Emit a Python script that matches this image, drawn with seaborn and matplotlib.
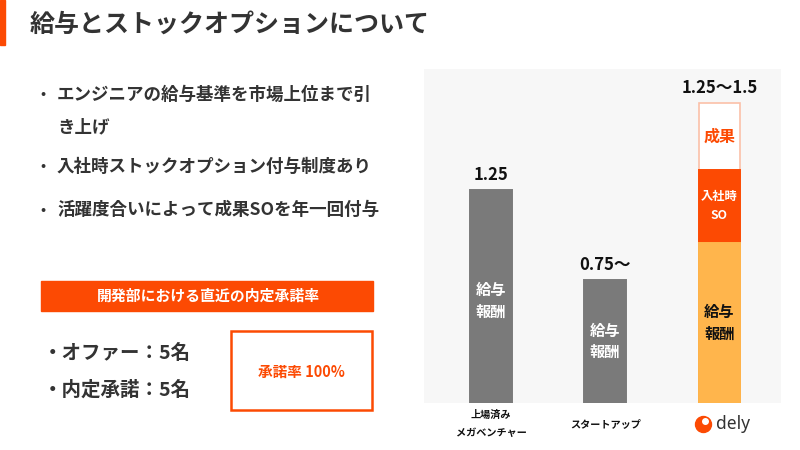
import matplotlib
matplotlib.use("Agg")
import matplotlib.pyplot as plt
import seaborn as sns
import numpy as np
from matplotlib.patches import Rectangle

sns.set_style("white")
plt.rcParams['font.family'] = ['Noto Sans CJK JP', 'DejaVu Sans']

# ---- data ----
categories = ["上場済み\nメガベンチャー", "スタートアップ", "dely"]
salary = [1.25, 0.72, 0.94]          # 給与報酬
join_so = [0.0, 0.0, 0.43]           # 入社時SO
perf_so = [0.0, 0.0, 0.39]           # 成果SO
value_labels = ["1.25", "0.75〜", "1.25〜1.5"]
title = "給与とストックオプションについて"
bullets = ["エンジニアの給与基準を市場上位まで引\nき上げ",
           "入社時ストックオプション付与制度あり",
           "活躍度合いによって成果SOを年一回付与"]
box_title = "開発部における直近の内定承諾率"
stats = ["・オファー：5名", "・内定承諾：5名"]
rate_text = "承諾率 100%"

ORANGE = "#fc4a03"
GRAY = "#7a7a7a"
LIGHT_OR = "#ffb54c"
DARK = "#333333"

W, H = 800, 450
fig = plt.figure(figsize=(8, 4.5), dpi=100)
fig.patch.set_facecolor("white")

def P(x, y):
    return x / W, 1 - y / H

# ---- chart ----
ax = fig.add_axes([424 / W, 47 / H, 357 / W, 334 / H])
ax.set_facecolor("#f7f7f7")

sal = np.array(salary); js = np.array(join_so); ps = np.array(perf_so)
tot3 = sal + js + ps
tot2 = sal + js
bw = 0.364
sel = [2]
sns.barplot(x=[categories[i] for i in sel], y=tot3[sel], order=categories,
            color="white", edgecolor="#fbc0a8", linewidth=1.2, width=bw,
            saturation=1, ax=ax)
sns.barplot(x=[categories[i] for i in sel], y=tot2[sel], order=categories,
            color=ORANGE, edgecolor=ORANGE, linewidth=1.4, width=bw,
            saturation=1, ax=ax)
sns.barplot(x=categories, y=sal, order=categories, hue=categories,
            palette=[GRAY, GRAY, LIGHT_OR], legend=False, width=bw,
            saturation=1, linewidth=0, ax=ax)
# cover the edge lines of the stacked layers beneath the base segment
for p in ax.patches[-3:]:
    p.set_edgecolor(p.get_facecolor())
    p.set_linewidth(1.4)

ax.set_xlim(-0.588, 2.54)
ax.set_ylim(0, 1.96)
for s in ax.spines.values():
    s.set_visible(False)
ax.set_yticks([])
ax.set_ylabel("")
ax.set_xlabel("")
ax.set_xticks(range(3))
ax.set_xticklabels(["上場済み\nメガベンチャー", "スタートアップ", ""])
ax.tick_params(axis="x", length=0, pad=15)
for lab in ax.get_xticklabels():
    lab.set_fontsize(7.3)
    lab.set_fontweight("bold")
    lab.set_color("#111111")
    lab.set_linespacing(2.0)
    lab.set_va("center")

# value labels
tops = [sal[0], sal[1], tot3[2]]
for i, (t, lab) in enumerate(zip(tops, value_labels)):
    ax.annotate(lab, (i, t), xytext=(0, 11), textcoords="offset points",
                ha="center", va="center", fontsize=12, fontweight="bold",
                color="#111111")

# labels inside bars
ax.text(0, sal[0] * 0.48, "給与\n報酬", ha="center", va="center", color="white",
        fontsize=11, fontweight="bold", linespacing=1.4)
ax.text(1, sal[1] * 0.5, "給与\n報酬", ha="center", va="center", color="white",
        fontsize=11, fontweight="bold", linespacing=1.4)
ax.text(2, sal[2] * 0.5, "給与\n報酬", ha="center", va="center", color="#111111",
        fontsize=11, fontweight="bold", linespacing=1.4)
ax.text(2, sal[2] + js[2] / 2, "入社時\nSO", ha="center", va="center", color="white",
        fontsize=8.8, fontweight="bold", linespacing=1.6)
ax.text(2, tot2[2] + ps[2] / 2, "成果", ha="center", va="center", color=ORANGE,
        fontsize=11.5, fontweight="bold")

# dely logo
fig.lines.append(plt.Line2D([703 / W], [1 - 424 / H], marker="o", markersize=11.5,
                            color=ORANGE, transform=fig.transFigure))
fig.lines.append(plt.Line2D([705 / W], [1 - 421 / H], marker="o", markersize=4,
                            color="white", transform=fig.transFigure))
fig.text(*P(716, 424), "dely", ha="left", va="center", fontsize=12.5,
         color="#333333", family=["Noto Sans", "DejaVu Sans"])

# ---- slide texts ----
fig.add_artist(Rectangle(P(0, 45), 5 / W, 45 / H, color=ORANGE,
                         transform=fig.transFigure))
fig.text(*P(30, 25), title, ha="left", va="center", fontsize=18,
         fontweight="bold", color=DARK)

lines0 = bullets[0].split("\n")
bullet_rows = [(95, lines0[0], True), (127, lines0[1], False),
               (167, bullets[1], True), (210, bullets[2], True)]
for y, txt, dot in bullet_rows:
    if dot:
        fig.text(*P(40, y), "•", ha="left", va="center", fontsize=11, color=DARK)
    fig.text(*P(57, y), txt, ha="left", va="center", fontsize=12.6,
             fontweight="bold", color=DARK)

fig.add_artist(Rectangle(P(41, 311), 332 / W, 30 / H, color=ORANGE,
                         transform=fig.transFigure))
fig.text(*P(208, 296), box_title, ha="center", va="center", fontsize=10.7,
         fontweight="bold", color="white")

for y, s in zip([353, 390], stats):
    fig.text(*P(43, y), s, ha="left", va="center", fontsize=14,
             fontweight="bold", color=DARK)

fig.add_artist(Rectangle(P(231, 410), 141 / W, 79 / H, facecolor="white",
                         edgecolor=ORANGE, linewidth=1.8,
                         transform=fig.transFigure))
fig.text(*P(301, 372), rate_text, ha="center", va="center", fontsize=10.5,
         fontweight="bold", color=ORANGE)

fig.savefig("out.png", dpi=100)
